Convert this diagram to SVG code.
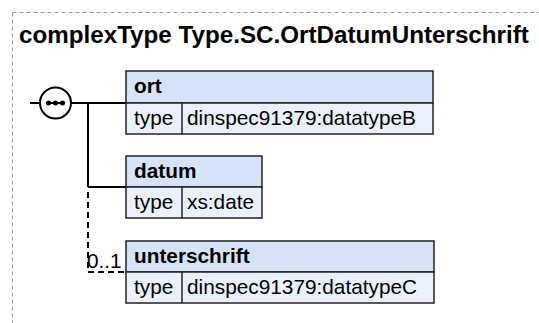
<svg xmlns="http://www.w3.org/2000/svg" width="539" height="323" viewBox="0 0 539 323">
<style>
.frame{fill:none;stroke:#999;stroke-width:1;stroke-dasharray:4,3}
.title{font-family:"Liberation Sans",Arial,sans-serif;font-weight:bold;font-size:24.2px;fill:#000}
.hdr{fill:#D6E3F8;stroke:#222;stroke-width:1.5}
.row{fill:#EAF1FC;stroke:#222;stroke-width:1.5}
.name{font-family:"Liberation Sans",Arial,sans-serif;font-weight:bold;font-size:20.8px;fill:#000}
.txt{font-family:"Liberation Sans",Arial,sans-serif;font-size:20.8px;fill:#000}
.ln{fill:none;stroke:#000;stroke-width:2}
.dash{fill:none;stroke:#000;stroke-width:2;stroke-dasharray:6,4}
</style>
<rect class="frame" x="12.5" y="12.5" width="540" height="330"/>
<text class="title" x="19" y="43">complexType Type.SC.OrtDatumUnterschrift</text>
<g id="connectors">
<line class="ln" x1="30" y1="103" x2="40" y2="103"/>
<line class="ln" x1="71" y1="103" x2="126" y2="103"/>
<line class="ln" x1="88" y1="103" x2="88" y2="187"/>
<line class="ln" x1="88" y1="187" x2="126" y2="187"/>
<line class="dash" x1="88" y1="192" x2="88" y2="272"/>
<line class="dash" x1="88" y1="272" x2="126" y2="272"/>
<text class="txt" x="87" y="268">0..1</text>
</g>
<g id="sequence">
<circle cx="55.5" cy="103" r="15.5" fill="#fff" stroke="#000" stroke-width="2"/>
<line x1="46" y1="103" x2="65" y2="103" stroke="#000" stroke-width="2"/>
<circle cx="48.5" cy="103" r="2.5" fill="#000"/>
<circle cx="55.5" cy="103" r="2.5" fill="#000"/>
<circle cx="62.5" cy="103" r="2.5" fill="#000"/>
</g>
<g id="ort">
<rect class="hdr" x="126" y="71" width="307" height="32"/>
<rect class="row" x="126" y="103" width="307" height="31"/>
<line x1="182" y1="103" x2="182" y2="134" stroke="#222" stroke-width="1.5"/>
<text class="name" x="134" y="93">ort</text>
<text class="txt" x="134" y="125">type</text>
<text class="txt" x="187" y="125">dinspec91379:datatypeB</text>
</g>
<g id="datum">
<rect class="hdr" x="126" y="156" width="136" height="31"/>
<rect class="row" x="126" y="187" width="136" height="31"/>
<line x1="182" y1="187" x2="182" y2="218" stroke="#222" stroke-width="1.5"/>
<text class="name" x="134" y="178">datum</text>
<text class="txt" x="134" y="209">type</text>
<text class="txt" x="187" y="209">xs:date</text>
</g>
<g id="unterschrift">
<rect class="hdr" x="126" y="241" width="308" height="31"/>
<rect class="row" x="126" y="272" width="308" height="31"/>
<line x1="182" y1="272" x2="182" y2="303" stroke="#222" stroke-width="1.5"/>
<text class="name" x="134" y="263">unterschrift</text>
<text class="txt" x="134" y="294">type</text>
<text class="txt" x="187" y="294">dinspec91379:datatypeC</text>
</g>
</svg>
